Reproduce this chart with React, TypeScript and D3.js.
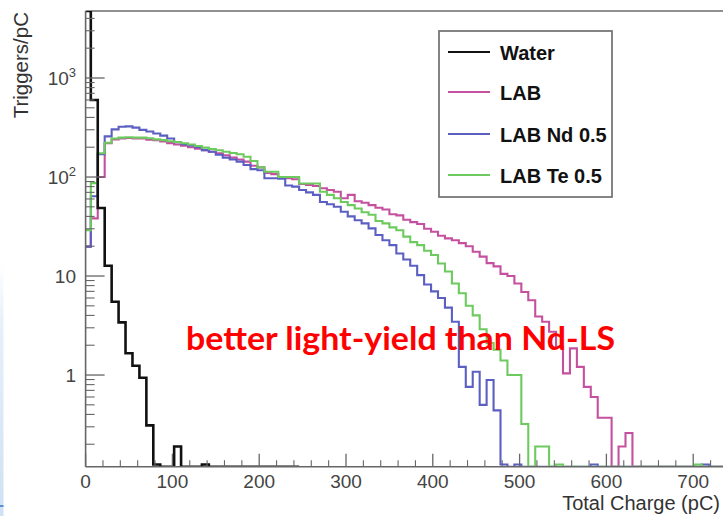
import React from "react";
import * as d3 from "d3";

// ---- data (Triggers/pC per 8 pC bin; first bin edge at -2 pC) ----
const BIN_START = -2;
const BIN_WIDTH = 8;

const waterValues = [5000, 600, 48.6, 12.7, 5.5, 3.4, 1.66, 1.24, 0.94, 0.31, 0.125, 0, 0, 0.19, 0, 0, 0, 0.125, 0, 0, 0, 0, 0, 0, 0, 0, 0, 0, 0, 0, 0];

const labValues = [
  19.8, 38.2, 100, 219, 240, 245, 248, 245, 245, 238,
  236, 228, 220, 213, 207, 200, 193, 187, 180, 174,
  166, 157, 150, 143, 130, 125, 110, 107, 100, 97,
  95, 85, 83, 81, 77, 74, 71, 61, 66, 57,
  55, 52, 49, 47, 42, 41, 37, 35, 33.5, 30,
  28, 25.5, 24, 23, 21.5, 20, 17.6, 15.7, 13.5, 12.5,
  10.5, 10, 8.4, 6.9, 5.7, 3.9, 3.45, 2.74, 1.93, 1.04,
  1.86, 1.21, 0.76, 0.6, 0.37, 0.37, 0, 0.19, 0.26, 0,
  0, 0, 0, 0, 0, 0, 0, 0, 0, 0, 0, 0, 0, 0,
];

const ndValues = [
  19.8, 64, 170, 257, 303, 322, 325, 315, 299, 288,
  275, 262, 245, 225, 215, 208, 200, 187, 180, 168,
  157, 150, 143, 132, 120, 117, 97, 97, 96, 82,
  80, 74, 70, 66, 56, 53, 50, 44.6, 40, 36.6,
  34, 30.3, 26, 23, 20.5, 16.9, 14.7, 12.7, 10.2, 8.2,
  7, 6, 4.8, 3.45, 1.21, 0.76, 1.08, 0.5, 0.89, 0.44,
  0.125, 0, 0.125, 0, 0, 0, 0, 0, 0, 0,
  0, 0, 0, 0.125, 0, 0, 0, 0, 0, 0,
  0, 0, 0, 0, 0, 0, 0, 0, 0, 0.125, 0, 0, 0, 0,
];

const teValues = [
  29.1, 86.8, 174, 222, 245, 250, 252, 250, 250, 246,
  240, 236, 230, 226, 219, 213, 206, 198, 192, 186,
  180, 175, 170, 160, 145, 125, 113, 113, 100, 100,
  100, 86, 86, 86, 71, 66, 61, 56, 52, 48,
  44, 41.5, 36, 34, 31, 29, 25, 22, 20.5, 18,
  16.3, 13.4, 11.1, 8.4, 6.7, 5, 4, 2.9, 2.1, 1.8,
  1.4, 1.0, 1.0, 0.32, 0, 0.19, 0.19, 0, 0.125, 0,
  0, 0, 0, 0, 0, 0, 0, 0, 0, 0,
  0, 0, 0, 0, 0, 0, 0, 0, 0.125, 0, 0, 0, 0, 0,
];

const seriesNames = ["Water", "LAB", "LAB Nd 0.5", "LAB Te 0.5"];
const seriesColors = ["#111111", "#c4509f", "#5b5fc2", "#6dca5e"];

const xMajorTicks = [0, 100, 200, 300, 400, 500, 600, 700];
const yMajorTicks = [1, 10, 100, 1000];
const yTickLabels = [
  { base: "1", exp: "" },
  { base: "10", exp: "" },
  { base: "10", exp: "2" },
  { base: "10", exp: "3" },
];

const xTitle = "Total Charge (pC)";
const yTitle = "Triggers/pC";
const annotation = "better light-yield than Nd-LS";

// ---- layout ----
const W = 723;
const H = 516;
const X0 = 85.6;
const Y_TOP = 11;
const Y_BOT = 466.7;
const X_MAX = 750;
const Y_MIN = 0.1186;
const Y_MAX = 4750;

export default function App() {
  const x = d3.scaleLinear().domain([0, X_MAX]).range([X0, X0 + 0.868 * X_MAX]);
  const y = d3.scaleLog().domain([Y_MIN, Y_MAX]).range([Y_BOT, Y_TOP]);

  const yPos = (v: number) => {
    if (!(v > Y_MIN)) return Y_BOT;
    return Math.max(Y_TOP, y(v));
  };

  const stepPath = (vals: number[]) => {
    let d = "";
    vals.forEach((v, i) => {
      const lo = Math.max(0, BIN_START + i * BIN_WIDTH);
      const hi = Math.min(X_MAX, BIN_START + (i + 1) * BIN_WIDTH);
      const yy = yPos(v);
      d += (i === 0 ? "M" : "L") + x(lo) + "," + yy + "L" + x(hi) + "," + yy;
    });
    return d;
  };

  const xMinor: number[] = d3.range(0, X_MAX + 1, 20).filter((v) => v % 100 !== 0);
  const yMinor: number[] = [];
  for (let dec = 0.1; dec < Y_MAX; dec *= 10) {
    for (let k = 2; k <= 9; k++) {
      const v = dec * k;
      if (v > Y_MIN && v < Y_MAX) yMinor.push(v);
    }
  }

  const series = [labValues, ndValues, teValues, waterValues];
  const seriesIdx = [1, 2, 3, 0];

  const axisColor = "#666";
  const labelColor = "#444";
  const legendY = [52, 92, 134, 175];

  return (
    <div style={{ position: "absolute", left: 0, top: 0 }}>
      <svg width={W} height={H} style={{ display: "block", background: "#fff" }}>
        <defs>
          <clipPath id="plotClip">
            <rect x={X0} y={Y_TOP} width={W - X0} height={Y_BOT - Y_TOP} />
          </clipPath>
          <linearGradient id="edgeGrad" x1="0" y1="0" x2="0" y2="1">
            <stop offset="0" stopColor="#ffffff" />
            <stop offset="0.25" stopColor="#e6f0fa" />
            <stop offset="1" stopColor="#cfe1f4" />
          </linearGradient>
        </defs>

        {/* slide edge */}
        <rect x={0} y={262} width={3.5} height={254} fill="url(#edgeGrad)" />
        <rect x={0} y={505} width={3.5} height={2} fill="#5b8fd0" />

        {/* frame top line */}
        <line x1={X0} x2={W} y1={Y_TOP} y2={Y_TOP} stroke="#222" strokeWidth={1} />

        {/* histograms */}
        <g clipPath="url(#plotClip)" fill="none" strokeLinejoin="miter">
          {series.map((vals, k) => (
            <path
              key={k}
              d={stepPath(vals)}
              stroke={seriesColors[seriesIdx[k]]}
              strokeWidth={seriesIdx[k] === 0 ? 2.6 : 2.1}
            />
          ))}
        </g>

        {/* axes */}
        <line x1={X0} x2={X0} y1={Y_TOP} y2={Y_BOT} stroke={axisColor} strokeWidth={1.6} />
        <line x1={X0} x2={W} y1={Y_BOT} y2={Y_BOT} stroke={axisColor} strokeWidth={1.6} />

        {yMajorTicks.map((v) => (
          <line key={"ym" + v} x1={X0} x2={X0 + 19} y1={y(v)} y2={y(v)} stroke={axisColor} strokeWidth={1.3} />
        ))}
        {yMinor.map((v) => (
          <line key={"yn" + v} x1={X0} x2={X0 + 9} y1={y(v)} y2={y(v)} stroke={axisColor} strokeWidth={1.1} />
        ))}
        {xMajorTicks.map((v) => (
          <line key={"xm" + v} x1={x(v)} x2={x(v)} y1={Y_BOT} y2={Y_BOT - 13} stroke={axisColor} strokeWidth={1.3} />
        ))}
        {xMinor.map((v) => (
          <line key={"xn" + v} x1={x(v)} x2={x(v)} y1={Y_BOT} y2={Y_BOT - 6.5} stroke={axisColor} strokeWidth={1.1} />
        ))}

        {/* tick labels */}
        <g fontFamily="'Liberation Sans', Arial, sans-serif" fill={labelColor}>
          {xMajorTicks.map((v) => (
            <text key={"xl" + v} x={x(v)} y={488} fontSize={19} textAnchor="middle">
              {String(v)}
            </text>
          ))}
          {yMajorTicks.map((v, i) => (
            <text key={"yl" + v} x={76} y={y(v) + 7} fontSize={19} textAnchor="end">
              {yTickLabels[i].base}
              {yTickLabels[i].exp ? (
                <tspan fontSize={13} dy={-8}>
                  {yTickLabels[i].exp}
                </tspan>
              ) : null}
            </text>
          ))}
        </g>

        {/* axis titles */}
        <text
          x={720}
          y={510}
          textAnchor="end"
          fontSize={20}
          fontFamily="'Liberation Sans', Arial, sans-serif"
          fill="#333"
        >
          {xTitle}
        </text>
        <text
          transform={`translate(27.5, 12) rotate(-90)`}
          textAnchor="end"
          fontSize={20.5}
          fontFamily="'Liberation Sans', Arial, sans-serif"
          fill="#333"
        >
          {yTitle}
        </text>

        {/* legend */}
        <rect x={439} y={31} width={173} height={166} fill="#fff" stroke="#777" strokeWidth={1.8} />
        {seriesNames.map((name, i) => (
          <g key={name}>
            <line x1={448} x2={490} y1={legendY[i]} y2={legendY[i]} stroke={seriesColors[i]} strokeWidth={2} />
            <text
              x={500}
              y={legendY[i] + 7.5}
              fontSize={20}
              fontWeight="bold"
              fontFamily="'Liberation Sans', Arial, sans-serif"
              fill="#111"
            >
              {name}
            </text>
          </g>
        ))}

        {/* annotation */}
        <text
          x={186}
          y={350}
          fontSize={32}
          fontWeight="bold"
          fontFamily="Lato, 'Open Sans', sans-serif"
          fill="#ff0000"
          textLength={429}
          lengthAdjust="spacingAndGlyphs"
        >
          {annotation}
        </text>
      </svg>
    </div>
  );
}
